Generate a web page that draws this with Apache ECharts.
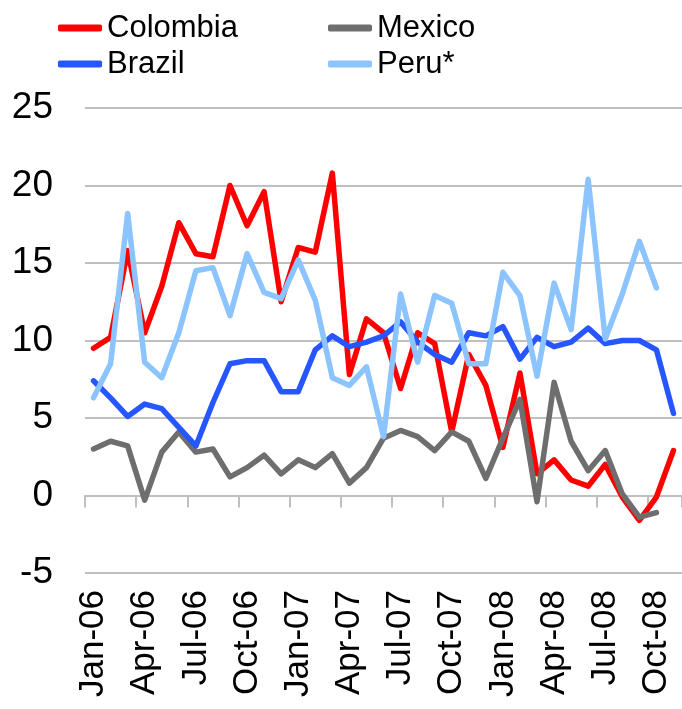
<!DOCTYPE html>
<html>
<head>
<meta charset="utf-8">
<title>Inflation by country, 2006-2008</title>
<script src="https://cdn.jsdelivr.net/npm/echarts@6/dist/echarts.min.js"></script>
<style>
  html, body { margin: 0; padding: 0; background: #ffffff; }
  #chart { width: 682px; height: 709px; }
</style>
</head>
<body>
<div id="chart"></div>
<script>
// Monthly categories, Jan-06 .. Nov-08
const months = [
  'Jan-06','Feb-06','Mar-06','Apr-06','May-06','Jun-06','Jul-06','Aug-06','Sep-06','Oct-06','Nov-06','Dec-06',
  'Jan-07','Feb-07','Mar-07','Apr-07','May-07','Jun-07','Jul-07','Aug-07','Sep-07','Oct-07','Nov-07','Dec-07',
  'Jan-08','Feb-08','Mar-08','Apr-08','May-08','Jun-08','Jul-08','Aug-08','Sep-08','Oct-08','Nov-08'
];

const colombia = [
  9.5, 10.2, 15.8, 10.5, 13.5, 17.6, 15.6, 15.4, 20.0, 17.4, 19.6, 12.5,
  16.0, 15.7, 20.8, 7.8, 11.4, 10.5, 6.9, 10.5, 9.8, 4.1, 9.1, 7.1,
  3.1, 7.9, 1.4, 2.3, 1.0, 0.6, 2.0, -0.1, -1.6, -0.1, 2.9
];

const mexico = [
  3.0, 3.5, 3.2, -0.3, 2.8, 4.1, 2.8, 3.0, 1.2, 1.8, 2.6, 1.4,
  2.3, 1.8, 2.7, 0.8, 1.8, 3.7, 4.2, 3.8, 2.9, 4.1, 3.5, 1.1,
  3.7, 6.2, -0.4, 7.3, 3.5, 1.6, 2.9, 0.1, -1.4, -1.1, null
];

const brazil = [
  7.4, 6.3, 5.1, 5.9, 5.6, 4.4, 3.2, 6.0, 8.5, 8.7, 8.7, 6.7,
  6.7, 9.4, 10.3, 9.6, 9.9, 10.3, 11.2, 9.9, 9.1, 8.6, 10.5, 10.3,
  10.9, 8.8, 10.2, 9.6, 9.9, 10.8, 9.8, 10.0, 10.0, 9.4, 5.3
];

const peru = [
  6.3, 8.5, 18.2, 8.6, 7.6, 10.5, 14.5, 14.7, 11.6, 15.6, 13.1, 12.7,
  15.2, 12.6, 7.6, 7.1, 8.3, 3.8, 13.0, 8.6, 12.9, 12.4, 8.5, 8.5,
  14.4, 12.9, 7.7, 13.7, 10.7, 20.4, 10.1, 13.0, 16.4, 13.4, null
];

const yTicks = { min: -5, max: 25, step: 5 };

const colors = {
  Colombia: '#ff0000',
  Mexico: '#6e6e6e',
  Brazil: '#2656ff',
  'Peru*': '#8cc4ff'
};

const gridColor = '#c0c0c0';
const labelFont = "'Liberation Sans', Arial, sans-serif";

function lineSeries(name, values) {
  return {
    name: name,
    type: 'line',
    data: values,
    xAxisIndex: 0,
    showSymbol: false,
    symbol: 'none',
    smooth: false,
    z: 3,
    lineStyle: { color: colors[name], width: 5.5, cap: 'round', join: 'round' },
    itemStyle: { color: colors[name] }
  };
}

function legendBlock(names, left) {
  return {
    data: names,
    orient: 'vertical',
    left: left,
    top: 10,
    padding: 0,
    itemGap: 0,
    itemWidth: 44,
    itemHeight: 7,
    icon: 'roundRect',
    selectedMode: false,
    textStyle: {
      fontFamily: labelFont,
      fontSize: 31,
      lineHeight: 36,
      color: '#000000'
    }
  };
}

const chart = echarts.init(document.getElementById('chart'), null, { renderer: 'canvas' });

chart.setOption({
  animation: false,
  backgroundColor: '#ffffff',
  legend: [
    legendBlock(['Colombia', 'Brazil'], 58),
    legendBlock(['Mexico', 'Peru*'], 328)
  ],
  grid: { left: 85, right: -3, top: 108, bottom: 136, containLabel: false },
  xAxis: [
    {
      // category labels along the bottom edge
      type: 'category',
      data: months,
      boundaryGap: true,
      position: 'bottom',
      axisLine: { show: false, onZero: false },
      axisTick: { show: false },
      splitLine: { show: false },
      axisLabel: {
        interval: 2,
        rotate: 90,
        margin: 17,
        fontFamily: labelFont,
        fontSize: 35,
        color: '#000000'
      }
    },
    {
      // baseline crossing at zero with quarterly tick marks
      type: 'category',
      data: months,
      boundaryGap: true,
      position: 'top',
      axisLine: { show: true, onZero: true, lineStyle: { color: gridColor, width: 2 } },
      axisTick: { show: true, inside: true, interval: 2, length: 12, lineStyle: { color: gridColor, width: 2 } },
      axisLabel: { show: false },
      splitLine: { show: false }
    }
  ],
  yAxis: {
    type: 'value',
    min: yTicks.min,
    max: yTicks.max,
    interval: yTicks.step,
    axisLine: { show: false },
    axisTick: { show: false },
    splitLine: { show: true, lineStyle: { color: gridColor, width: 2 } },
    axisLabel: {
      margin: 32,
      fontFamily: labelFont,
      fontSize: 37,
      color: '#000000'
    }
  },
  series: [
    lineSeries('Colombia', colombia),
    lineSeries('Mexico', mexico),
    lineSeries('Brazil', brazil),
    lineSeries('Peru*', peru)
  ]
});
</script>
</body>
</html>
